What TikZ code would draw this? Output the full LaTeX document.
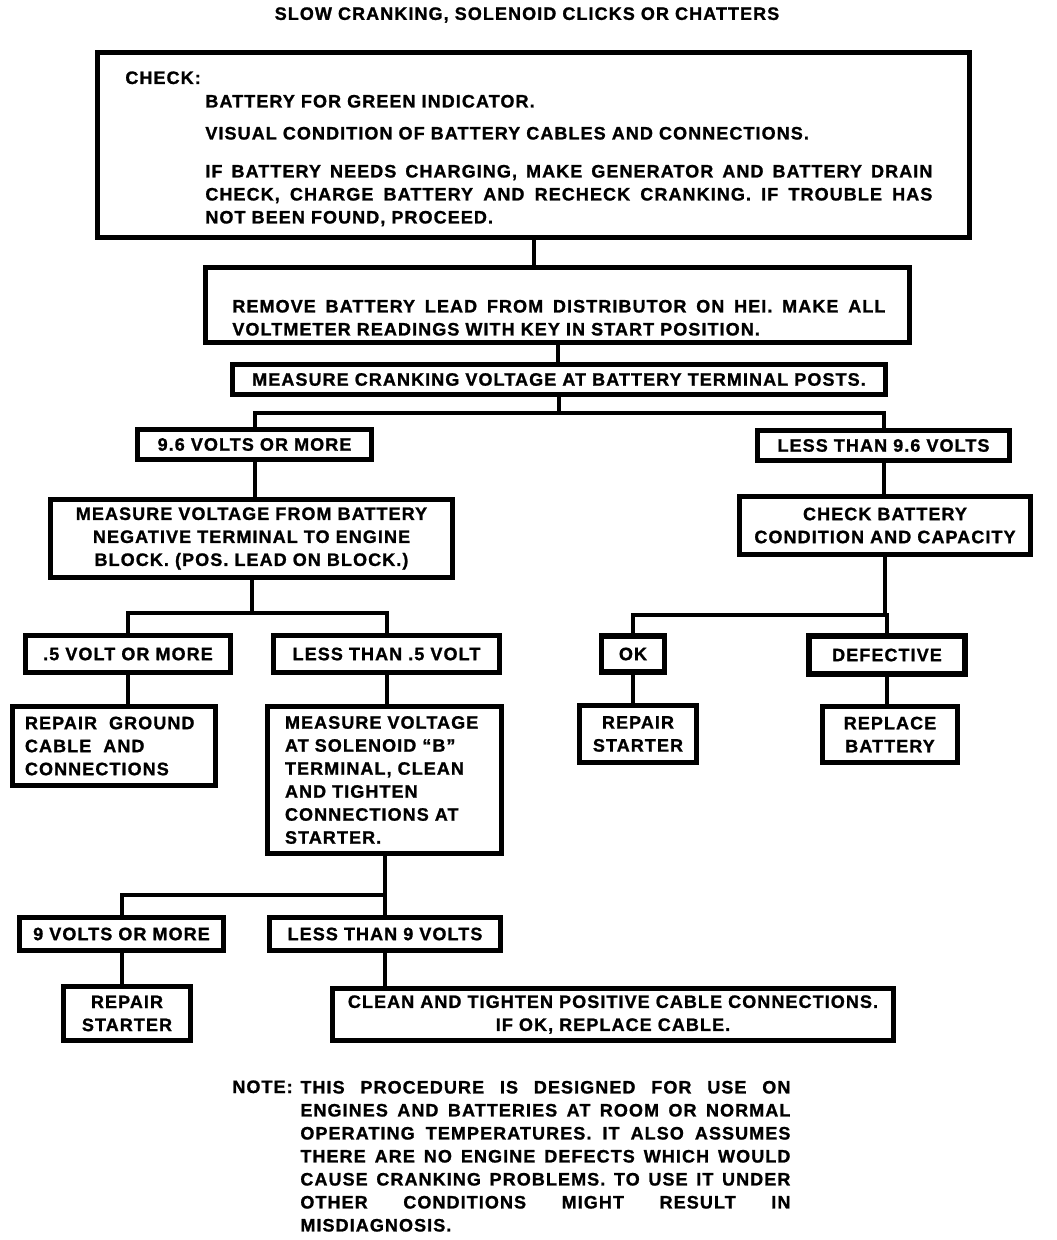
\documentclass[tikz,border=0pt]{standalone}
\usepackage{fontspec}
\setmainfont{Liberation Sans}[LetterSpace=6,BoldFeatures={FakeBold=1.2}]
\usetikzlibrary{positioning}
\newcommand\spreadline[2]{\makebox[#1][s]{#2}}

\begin{document}
\begin{tikzpicture}[x=0.5pt,y=-0.5pt,
        every node/.style={font=\fontsize{9}{11.5}\selectfont\bfseries},
        flowbox/.style={draw,line width=2.8pt,inner sep=0pt,align=center},
        link/.style={line width=2pt}]
        \useasboundingbox (0,0) rectangle (1056,1240);

        \node (title) at (527,15) {SLOW CRANKING, SOLENOID CLICKS OR CHATTERS};

        \node[flowbox,minimum width=436pt,minimum height=92.5pt] (check) at (533.5,145) {};
        \node[anchor=base west,inner sep=0pt] (checkhead) at (125,84) {CHECK:};
        \node[anchor=north west,inner sep=0pt,align=left] (checktext) at (205,94.5)
                {BATTERY FOR GREEN INDICATOR.\\[4.5pt]
                 VISUAL CONDITION OF BATTERY CABLES AND CONNECTIONS.\\[7.5pt]
                 \spreadline{363.5pt}{IF BATTERY NEEDS CHARGING, MAKE GENERATOR AND BATTERY DRAIN}\\
                 \spreadline{363.5pt}{CHECK, CHARGE BATTERY AND RECHECK CRANKING. IF TROUBLE HAS}\\
                 NOT BEEN FOUND, PROCEED.};

        \node[flowbox,minimum width=352pt,minimum height=37.5pt] (remove) at (557.5,305) {};
        \node[anchor=north west,inner sep=0pt,align=left] (removetext) at (232,299.5)
                {\spreadline{326.5pt}{REMOVE BATTERY LEAD FROM DISTRIBUTOR ON HEI. MAKE ALL}\\
                 VOLTMETER READINGS WITH KEY IN START POSITION.};

        \node[flowbox,minimum width=326.5pt,minimum height=15pt] (cranking) at (559,379.5)
                {MEASURE CRANKING VOLTAGE AT BATTERY TERMINAL POSTS.};

        \node[flowbox,minimum width=117pt,minimum height=15pt] (more96) at (254.5,444.5) {9.6 VOLTS OR MORE};
        \node[flowbox,minimum width=126pt,minimum height=15pt] (less96) at (883.5,445.5) {LESS THAN 9.6 VOLTS};

        \node[flowbox,minimum width=201pt,minimum height=39pt] (ground) at (251.5,538.5)
                {MEASURE VOLTAGE FROM BATTERY\\NEGATIVE TERMINAL TO ENGINE\\BLOCK. (POS. LEAD ON BLOCK.)};
        \node[flowbox,minimum width=145.5pt,minimum height=29pt] (capacity) at (885,525.5)
                {CHECK BATTERY\\CONDITION AND CAPACITY};

        \node[flowbox,minimum width=102.5pt,minimum height=18.5pt] (more05) at (128,654) {.5 VOLT OR MORE};
        \node[flowbox,minimum width=113pt,minimum height=18.5pt] (less05) at (386.5,654) {LESS THAN .5 VOLT};
        \node[flowbox,minimum width=31.5pt,minimum height=18pt] (ok) at (633,654) {OK};
        \node[flowbox,minimum width=78pt,minimum height=19pt] (defective) at (887,655) {DEFECTIVE};

        \node[flowbox,minimum height=39.5pt,text width=89pt,inner xsep=6.25pt,align=left] (repgnd) at (114,746)
                {REPAIR\ \ GROUND\\CABLE\ \ AND\\CONNECTIONS};
        \node[flowbox,minimum height=73.5pt,text width=99.5pt,inner xsep=8.75pt,align=left] (solenoid) at (384.5,780)
                {MEASURE VOLTAGE\\AT SOLENOID ``B''\\TERMINAL, CLEAN\\AND TIGHTEN\\CONNECTIONS AT\\STARTER.};
        \node[flowbox,minimum width=58.5pt,minimum height=28.5pt] (repst2) at (638,734) {REPAIR\\STARTER};
        \node[flowbox,minimum width=67.5pt,minimum height=28pt] (replace) at (890,734.5) {REPLACE\\BATTERY};

        \node[flowbox,minimum width=102pt,minimum height=16.5pt] (more9) at (121.5,934) {9 VOLTS OR MORE};
        \node[flowbox,minimum width=115.5pt,minimum height=16.5pt] (less9) at (385,934) {LESS THAN 9 VOLTS};

        \node[flowbox,minimum width=63.5pt,minimum height=27pt] (repst1) at (127,1013.5) {REPAIR\\STARTER};
        \node[flowbox,minimum width=280.5pt,minimum height=26pt] (clean) at (613,1014.5)
                {CLEAN AND TIGHTEN POSITIVE CABLE CONNECTIONS.\\IF OK, REPLACE CABLE.};

        \node[anchor=base west,inner sep=0pt] (notehead) at (232,1093) {NOTE:};
        \node[anchor=north west,inner sep=0pt,align=left] (notetext) at (300,1080.5)
                {\spreadline{245pt}{THIS PROCEDURE IS DESIGNED FOR USE ON}\\
                 \spreadline{245pt}{ENGINES AND BATTERIES AT ROOM OR NORMAL}\\
                 \spreadline{245pt}{OPERATING TEMPERATURES. IT ALSO ASSUMES}\\
                 \spreadline{245pt}{THERE ARE NO ENGINE DEFECTS WHICH WOULD}\\
                 \spreadline{245pt}{CAUSE CRANKING PROBLEMS. TO USE IT UNDER}\\
                 \spreadline{245pt}{OTHER CONDITIONS MIGHT RESULT IN}\\
                 MISDIAGNOSIS.};

        \coordinate (split1) at ([yshift=-8pt]cranking.south);
        \coordinate (split2) at ([yshift=-16.5pt]ground.south);
        \coordinate (split3) at ([yshift=-29pt]capacity.south);
        \coordinate (split4) at ([yshift=-19.5pt]solenoid.south);

        \draw[link] (check.south) -- (check.south |- remove.north);
        \draw[link] (remove.south) -- (remove.south |- cranking.north);
        \draw[link] (cranking.south) -- (split1);
        \draw[link] (more96.north) |- (split1) -| (less96.north);
        \draw[link] (more96.south) -- (more96.south |- ground.north);
        \draw[link] (less96.south) -- (less96.south |- capacity.north);
        \draw[link] (ground.south) -- (split2);
        \draw[link] (more05.north) |- (split2) -| (less05.north);
        \draw[link] (capacity.south) -- (split3);
        \draw[link] (ok.north) |- (split3) -| (defective.north);
        \draw[link] (more05.south) -- (more05.south |- repgnd.north);
        \draw[link] (less05.south) -- (less05.south |- solenoid.north);
        \draw[link] (ok.south) -- (ok.south |- repst2.north);
        \draw[link] (defective.south) -- (defective.south |- replace.north);
        \draw[link] (solenoid.south) -- (split4);
        \draw[link] (more9.north) |- (split4) -| (less9.north);
        \draw[link] (more9.south) -- (more9.south |- repst1.north);
        \draw[link] (less9.south) -- (less9.south |- clean.north);
\end{tikzpicture}
\end{document}
